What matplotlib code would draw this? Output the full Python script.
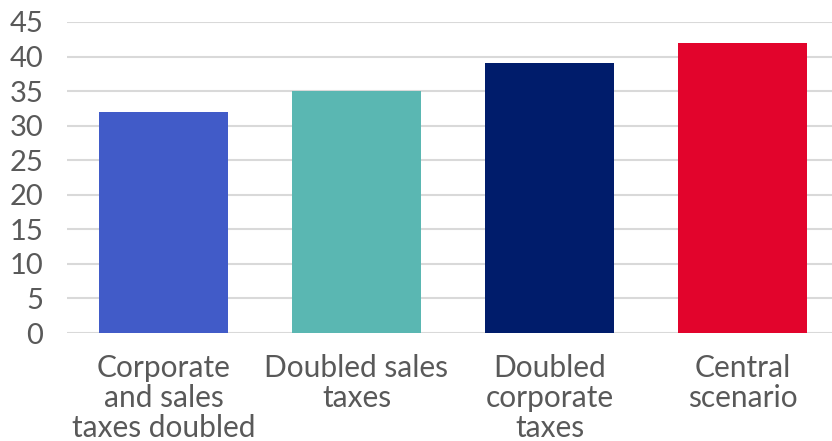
import matplotlib
matplotlib.use("Agg")
import matplotlib.pyplot as plt

categories = ["Corporate\nand sales\ntaxes doubled", "Doubled sales\ntaxes",
              "Doubled\ncorporate\ntaxes", "Central\nscenario"]
values = [32, 35, 39, 42]
colors = ["#415BC8", "#5AB7B2", "#001C6B", "#E2042C"]
yticks = [0, 5, 10, 15, 20, 25, 30, 35, 40, 45]

plt.rcParams["font.family"] = ["Lato", "DejaVu Sans"]

fig = plt.figure(figsize=(8.32, 4.41), dpi=100)
ax = fig.add_axes([67 / 832, 108 / 441, 772 / 832, 311 / 441])

x = list(range(len(categories)))
ax.bar(x, values, width=0.67, color=colors, zorder=3)

ax.set_xlim(-0.5, len(categories) - 0.5)
ax.set_ylim(0, 45)
ax.set_yticks(yticks)
ax.set_xticks(x)
ax.set_xticklabels(categories, linespacing=1.1)

ax.yaxis.grid(True, color="#D9D9D9", linewidth=1.5, zorder=0)
ax.set_axisbelow(True)
for s in ax.spines.values():
    s.set_visible(False)
ax.tick_params(axis="both", length=0, colors="#595959")
ax.tick_params(axis="y", pad=17, labelsize=21)
ax.tick_params(axis="x", pad=15, labelsize=21.5)

fig.savefig("out.png", dpi=100)
